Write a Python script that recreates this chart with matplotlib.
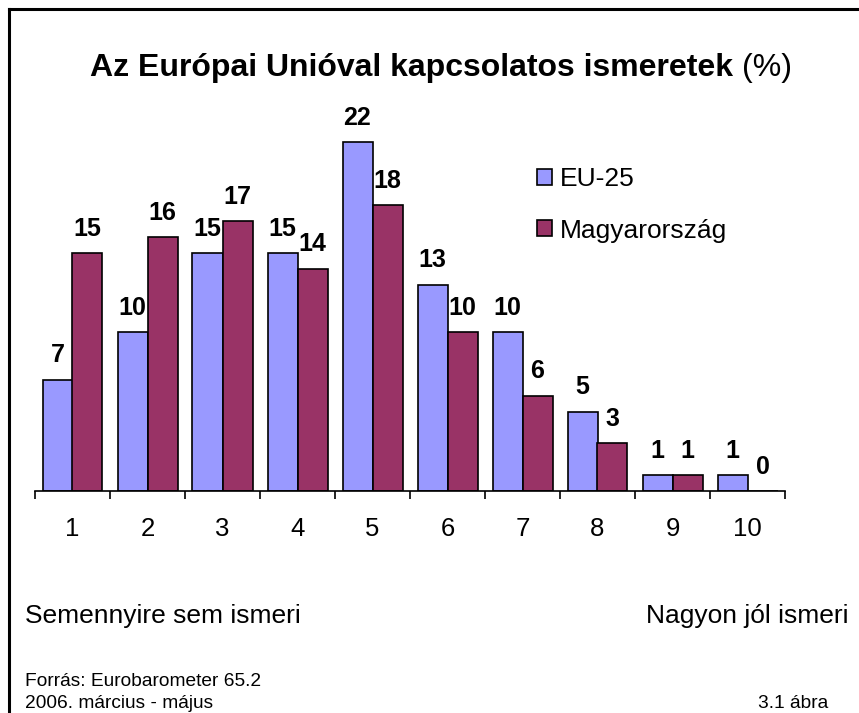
import matplotlib
matplotlib.use("Agg")
import matplotlib.pyplot as plt
from matplotlib.lines import Line2D
import numpy as np

plt.rcParams['font.family'] = ['Liberation Sans', 'DejaVu Sans']

# data
categories = [1, 2, 3, 4, 5, 6, 7, 8, 9, 10]
eu25 = [7, 10, 15, 15, 22, 13, 10, 5, 1, 1]
magyar = [15, 16, 17, 14, 18, 10, 6, 3, 1, 0]
series_names = ["EU-25", "Magyarország"]
tick_labels = [str(c) for c in categories]

W, H = 859, 713
fig = plt.figure(figsize=(W / 100, H / 100), dpi=100)

# axes placed in pixel terms (bottom axis at y=491, top at y=100)
ax = fig.add_axes([35 / W, 1 - 491 / H, 750 / W, 391 / H])
ax.patch.set_alpha(0)

x = np.arange(len(categories)) + 1
width = 0.4
b1 = ax.bar(x - width / 2, eu25, width, color="#9999FF", edgecolor="black",
            linewidth=1.2, label=series_names[0])
b2 = ax.bar(x + width / 2, magyar, width, color="#993366", edgecolor="black",
            linewidth=1.2, label=series_names[1])

for bars in (b1, b2):
    ax.bar_label(bars, padding=9, fontsize=18, fontweight="bold")

ax.set_xlim(0.5, 10.5)
ax.set_ylim(0, 24.65)
for side in ("left", "right", "top"):
    ax.spines[side].set_visible(False)
ax.spines["bottom"].set_linewidth(1.2)
ax.set_yticks([])
ax.set_xticks(x)
ax.set_xticklabels(tick_labels)
ax.set_xticks(np.arange(0.5, 11, 1), minor=True)
ax.tick_params(axis="x", which="major", length=0, pad=19, labelsize=18.5)
ax.tick_params(axis="x", which="minor", length=6, width=1.2, direction="out")

leg = ax.legend(loc="upper left", bbox_to_anchor=(537 / W, 1 - 167 / H),
                bbox_transform=fig.transFigure, frameon=False, fontsize=19,
                handlelength=0.55, handleheight=0.55, handletextpad=0.3,
                labelspacing=1.05, borderpad=0, borderaxespad=0)

# title: bold part + normal "(%)"
fig.text(733 / W, 1 - 76 / H, "Az Európai Unióval kapcsolatos ismeretek",
         ha="right", va="baseline", fontsize=23, fontweight="bold")
fig.text(742 / W, 1 - 76 / H, "(%)", ha="left", va="baseline", fontsize=23)

fig.text(25 / W, 1 - 623 / H, "Semennyire sem ismeri", ha="left",
         va="baseline", fontsize=19)
fig.text(849 / W, 1 - 623 / H, "Nagyon jól ismeri", ha="right",
         va="baseline", fontsize=19)

fig.text(25 / W, 1 - 686 / H, "Forrás: Eurobarometer 65.2", ha="left",
         va="baseline", fontsize=13.8)
fig.text(25 / W, 1 - 708 / H, "2006. március - május", ha="left",
         va="baseline", fontsize=13.8)
fig.text(828 / W, 1 - 708 / H, "3.1 ábra", ha="right", va="baseline",
         fontsize=13.8)

# outer frame: only top and left edges are visible in the picture
fig.add_artist(Line2D([9 / W, 1], [1 - 9 / H, 1 - 9 / H], color="black",
                      linewidth=2.2, transform=fig.transFigure))
fig.add_artist(Line2D([9 / W, 9 / W], [0, 1 - 9 / H], color="black",
                      linewidth=2.2, transform=fig.transFigure))

fig.savefig("out.png", dpi=100)
